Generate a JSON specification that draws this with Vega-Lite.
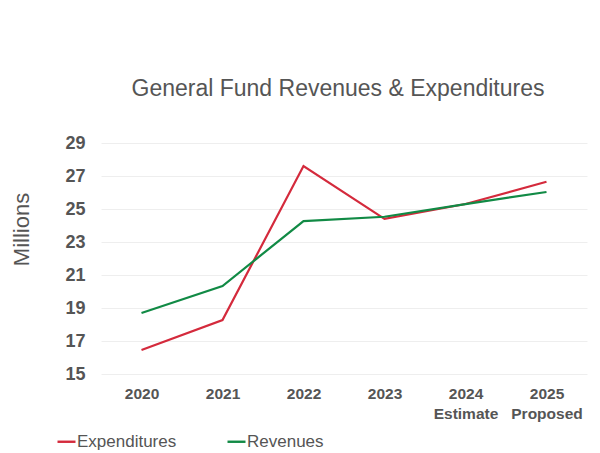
{
  "$schema": "https://vega.github.io/schema/vega-lite/v6.json",
  "width": 486,
  "height": 231,
  "padding": {"left": 10, "top": 78, "right": 5, "bottom": 0},
  "background": "white",
  "title": {
    "text": "General Fund Revenues & Expenditures",
    "font": "Liberation Sans",
    "fontSize": 23,
    "fontWeight": "normal",
    "color": "#555555",
    "anchor": "middle",
    "dx": -6,
    "offset": 33
  },
  "data": {
    "values": [
      {"year": "2020", "series": "Expenditures", "value": 16.45},
      {"year": "2021", "series": "Expenditures", "value": 18.27},
      {"year": "2022", "series": "Expenditures", "value": 27.6},
      {"year": "2023", "series": "Expenditures", "value": 24.4},
      {"year": "2024\nEstimate", "series": "Expenditures", "value": 25.3},
      {"year": "2025\nProposed", "series": "Expenditures", "value": 26.65},
      {"year": "2020", "series": "Revenues", "value": 18.7},
      {"year": "2021", "series": "Revenues", "value": 20.33},
      {"year": "2022", "series": "Revenues", "value": 24.27},
      {"year": "2023", "series": "Revenues", "value": 24.53},
      {"year": "2024\nEstimate", "series": "Revenues", "value": 25.3},
      {"year": "2025\nProposed", "series": "Revenues", "value": 26.03}
    ]
  },
  "mark": {"type": "line", "strokeWidth": 2.2},
  "encoding": {
    "x": {
      "field": "year",
      "type": "ordinal",
      "sort": null,
      "scale": {"type": "point", "padding": 0.5},
      "axis": {
        "title": null,
        "labelAngle": 0,
        "labelExpr": "split(datum.label, '\\n')",
        "labelFont": "Liberation Sans",
        "labelFontSize": 15.5,
        "labelFontWeight": "bold",
        "labelColor": "#555555",
        "labelPadding": 12,
        "labelLineHeight": 20,
        "domain": false,
        "ticks": false,
        "grid": false
      }
    },
    "y": {
      "field": "value",
      "type": "quantitative",
      "scale": {"domain": [15, 29], "zero": false, "nice": false},
      "axis": {
        "title": "Millions",
        "titleFont": "Liberation Sans",
        "titleFontSize": 22,
        "titleFontWeight": "normal",
        "titleColor": "#555555",
        "titlePadding": 31,
        "titleY": 86,
        "values": [15, 17, 19, 21, 23, 25, 27, 29],
        "labelFont": "Liberation Sans",
        "labelFontSize": 18,
        "labelFontWeight": "bold",
        "labelColor": "#555555",
        "labelPadding": 16,
        "domain": false,
        "ticks": false,
        "grid": true,
        "gridColor": "#eeeeee",
        "gridWidth": 1
      }
    },
    "color": {
      "field": "series",
      "type": "nominal",
      "scale": {"domain": ["Expenditures", "Revenues"], "range": ["#d42a3c", "#118a45"]},
      "legend": {
        "title": null,
        "orient": "none",
        "legendX": -45,
        "legendY": 288,
        "direction": "horizontal",
        "symbolType": "stroke",
        "symbolSize": 324,
        "symbolStrokeWidth": 2.4,
        "labelFont": "Liberation Sans",
        "labelFontSize": 17,
        "labelColor": "#555555",
        "labelOffset": 0,
        "columnPadding": 45
      }
    }
  },
  "config": {"view": {"stroke": null}}
}
